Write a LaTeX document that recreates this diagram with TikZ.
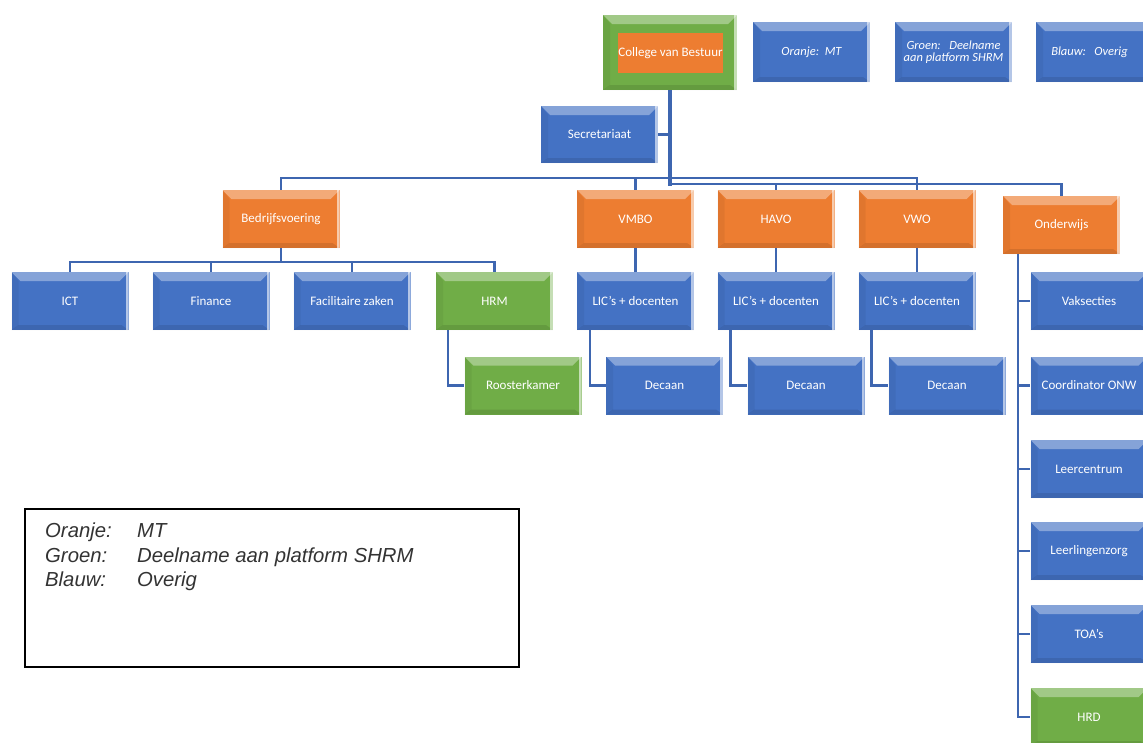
\documentclass[tikz,border=0pt]{standalone}
\usepackage{fontspec}
\setmainfont{Carlito}
\newfontfamily\arialfont{Liberation Sans}
\definecolor{cblue}{HTML}{4472C4}
\definecolor{corange}{HTML}{ED7D31}
\definecolor{cgreen}{HTML}{70AD47}
\definecolor{cline}{HTML}{3E66B0}
\tikzset{
  bevel/.style={path picture={
    \fill[white,opacity=.35] (path picture bounding box.north west) -- (path picture bounding box.north east)
      -- ([shift={(-9pt,-9pt)}]path picture bounding box.north east) -- ([shift={(9pt,-9pt)}]path picture bounding box.north west) -- cycle;
    \fill[black,opacity=.10] (path picture bounding box.south west) -- (path picture bounding box.south east)
      -- ([shift={(-7pt,5pt)}]path picture bounding box.south east) -- ([shift={(7pt,5pt)}]path picture bounding box.south west) -- cycle;
    \fill[black,opacity=.05] (path picture bounding box.north west) -- ([shift={(7pt,-9pt)}]path picture bounding box.north west)
      -- ([shift={(7pt,5pt)}]path picture bounding box.south west) -- (path picture bounding box.south west) -- cycle;
    \fill[white,opacity=.6] ([xshift=-3pt]path picture bounding box.north east) rectangle (path picture bounding box.south east);
  }},
  orgbox/.style={rectangle, minimum width=117pt, minimum height=58pt, inner sep=1pt, text=white,
    font=\fontsize{13}{14}\selectfont, align=center, bevel},
  bluebox/.style={orgbox, fill=cblue},
  orangebox/.style={orgbox, fill=corange},
  greenbox/.style={orgbox, fill=cgreen},
  legbox/.style={bluebox, minimum height=60pt, font=\fontsize{12.5}{12}\selectfont\itshape},
  conn/.style={draw=cline, line width=2.4pt},
  trunk/.style={draw=cline, line width=4pt},
  legtext/.style={anchor=base west, inner sep=0pt, font=\arialfont\itshape\fontsize{20.3}{22}\selectfont, text=black!80},
}
\begin{document}
\begin{tikzpicture}[x=1pt,y=-1pt]
\useasboundingbox[fill=white] (0,0) rectangle (1143,742);

% top
\node[greenbox, minimum width=134pt, minimum height=75pt] (cvbo) at (670,52.5) {};
\node[rectangle, fill=corange, minimum width=105pt, minimum height=40pt, text=white, inner sep=0pt,
      font=\fontsize{13}{14}\selectfont] (cvb) at (670.5,53) {College van Bestuur};

\coordinate (tb) at (670,186);
\coordinate (b1) at (670,178);
\coordinate (b2) at (670,184);

\node[legbox] (lo) at (811.5,52) {Oranje:\ \ MT};
\node[legbox] (lg) at (953.5,52) {Groen:\ \ \ Deelname\\aan platform SHRM};
\node[legbox, text width=100pt] (lb) at (1094.5,52) {Blauw:\ \ Overig\hspace*{10pt}};

\node[bluebox, minimum height=57pt] (sec) at (599.5,134.5) {Secretariaat};

% row 2
\node[orangebox] (bedr) at (281,219) {Bedrijfsvoering};
\node[orangebox] (vmbo) at (635.5,219) {VMBO};
\node[orangebox] (havo) at (776,219) {HAVO};
\node[orangebox] (vwo) at (917,219) {VWO};
\node[orangebox] (ond) at (1061.5,225) {Onderwijs};

% row 3
\node[bluebox] (ict) at (70,301) {ICT};
\node[bluebox] (fin) at (211,301) {Finance};
\node[bluebox] (fac) at (352,301) {Facilitaire zaken};
\node[greenbox] (hrm) at (494.5,301) {HRM};
\node[bluebox] (lic1) at (635.5,301) {LIC's + docenten};
\node[bluebox] (lic2) at (776,301) {LIC's + docenten};
\node[bluebox] (lic3) at (917,301) {LIC's + docenten};

% row 4
\node[greenbox] (roost) at (523,385.5) {Roosterkamer};
\node[bluebox] (dec1) at (664.5,385.5) {Decaan};
\node[bluebox] (dec2) at (806,385.5) {Decaan};
\node[bluebox] (dec3) at (947,385.5) {Decaan};

% onderwijs column
\node[bluebox] (vak) at (1089,301) {Vaksecties};
\node[bluebox] (coord) at (1089,385.5) {Coordinator ONW};
\node[bluebox] (leer) at (1089,469) {Leercentrum};
\node[bluebox] (lzorg) at (1089,551) {Leerlingenzorg};
\node[bluebox] (toa) at (1089,634) {TOA's};
\node[greenbox] (hrd) at (1089,717) {HRD};

% connectors
\path[trunk] (cvbo.south) -- (tb);
\path[conn] (sec.east) -- (sec.east -| tb);
\path[conn] (b1) -| (bedr.north);
\path[conn] (b1) -| (vmbo.north);
\path[conn] (b1) -| (vwo.north);
\path[conn] (b2) -| (havo.north);
\path[conn] (b2) -| (ond.north);

\coordinate (bb) at ([yshift=-14pt]bedr.south);
\path[conn] (bedr.south) -- (bb);
\path[conn] (bb) -| (ict.north);
\path[conn] (bb) -| (fin.north);
\path[conn] (bb) -| (fac.north);
\path[conn] (bb) -| (hrm.north);

\path[conn] ([xshift=-46.5pt]hrm.south) |- (roost.west);
\path[conn] (vmbo.south) -- (lic1.north);
\path[conn] (havo.south) -- (lic2.north);
\path[conn] (vwo.south) -- (lic3.north);
\path[conn] ([xshift=-45.5pt]lic1.south) |- (dec1.west);
\path[conn] ([xshift=-45.5pt]lic2.south) |- (dec2.west);
\path[conn] ([xshift=-45.5pt]lic3.south) |- (dec3.west);

\coordinate (os) at ([xshift=-43.5pt]ond.south);
\path[conn] (os) |- (vak.west);
\path[conn] (os) |- (coord.west);
\path[conn] (os) |- (leer.west);
\path[conn] (os) |- (lzorg.west);
\path[conn] (os) |- (toa.west);
\path[conn] (os) |- (hrd.west);

% legend box
\node[draw=black, line width=1.3pt, minimum width=494pt, minimum height=158pt, inner sep=0pt] (legend) at (272,588) {};
\node[legtext] (l1a) at (45,537) {Oranje:};
\node[legtext] (l1b) at (137,537) {MT};
\node[legtext] (l2a) at (45,562) {Groen:};
\node[legtext] (l2b) at (137,562) {Deelname aan platform SHRM};
\node[legtext] (l3a) at (45,586) {Blauw:};
\node[legtext] (l3b) at (137,586) {Overig};
\end{tikzpicture}
\end{document}
